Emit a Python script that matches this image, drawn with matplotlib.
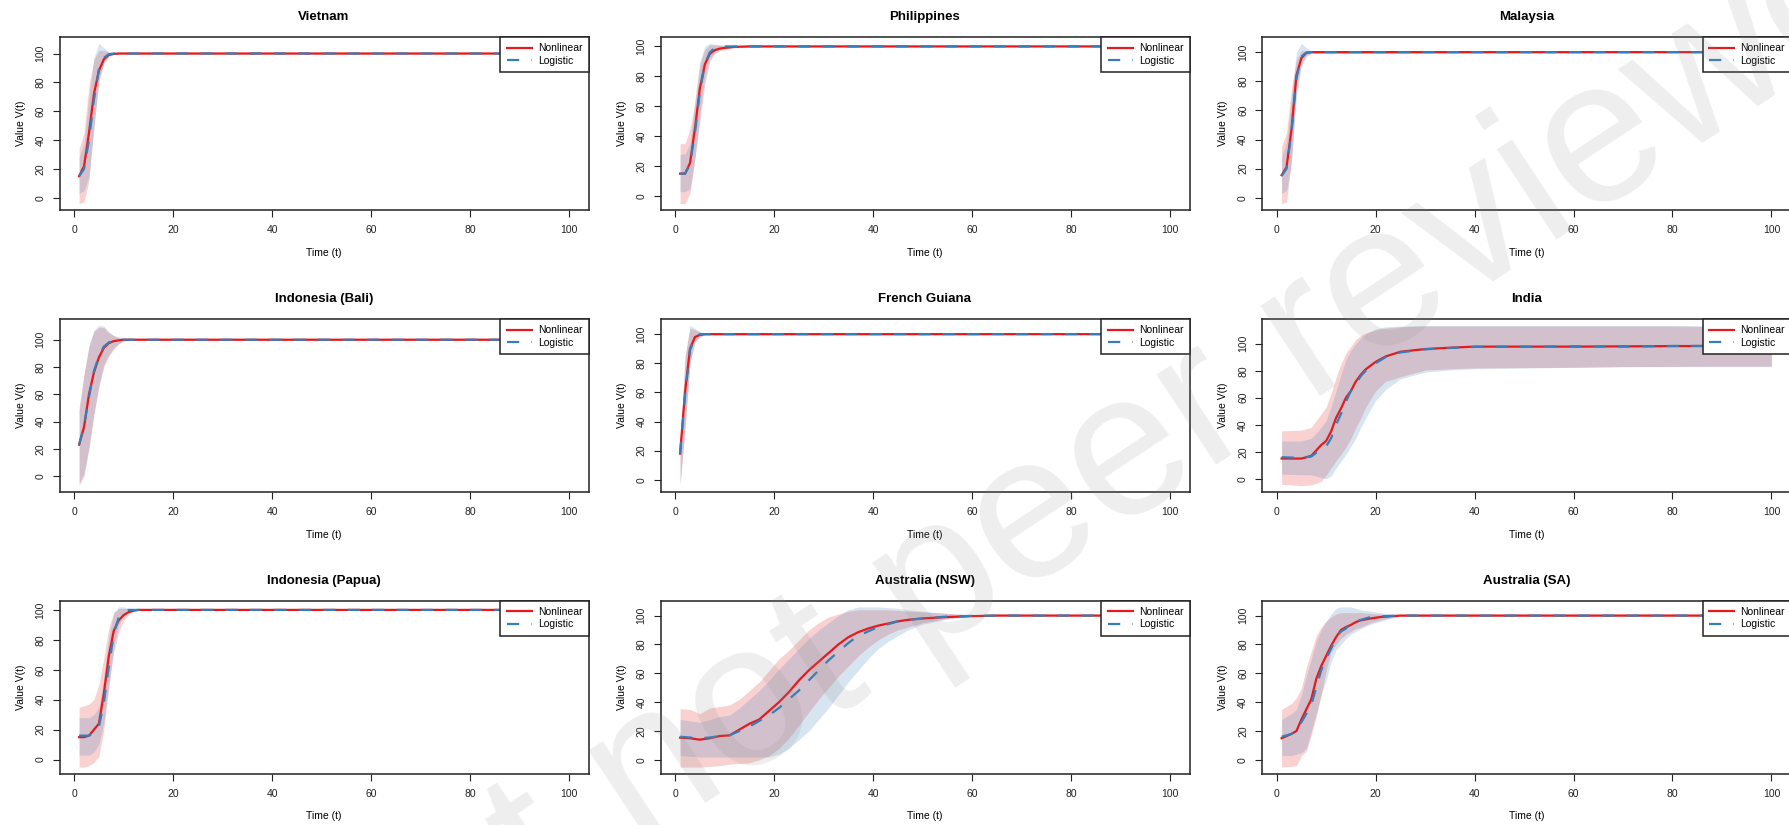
import matplotlib as mpl
mpl.use('Agg')
import matplotlib.pyplot as plt
import numpy as np

plt.rcParams['font.family'] = ['Liberation Sans', 'DejaVu Sans']

RED = '#E41A1C'
BLUE = '#377EB8'

# ---- Vietnam ----
vn_t = [1, 2, 3, 4, 5, 6, 7, 8, 9, 100]
vn_nl = [15, 22, 45, 72, 88, 96, 99, 99.7, 100, 100]
vn_lg = [15, 20, 40, 68, 89, 97, 99.5, 100, 100, 100]
vn_nl_lo = [-4, -3, 12, 50, 80, 93, 98, 99.5, 99.8, 99.8]
vn_nl_hi = [34, 45, 78, 96, 102, 102, 101, 100.5, 100.2, 100.2]
vn_lg_lo = [3, 5, 15, 48, 82, 94, 98.5, 99.5, 99.8, 99.8]
vn_lg_hi = [28, 38, 70, 97, 107, 104, 101, 100.5, 100.2, 100.2]

# ---- Philippines ----
ph_t = [1, 2, 3, 4, 5, 6, 7, 8, 9, 10, 12, 15, 100]
ph_nl = [15, 15, 22, 45, 72, 88, 95, 97.5, 98.5, 99, 99.7, 100, 100]
ph_lg = [15, 15, 21, 42, 70, 88, 96, 99, 100, 100, 100, 100, 100]
ph_nl_lo = [-5, -5, 2, 25, 50, 75, 90, 95, 97, 98, 99, 99.5, 99.8]
ph_nl_hi = [35, 35, 45, 62, 88, 98, 101, 101, 100.8, 100.5, 100.3, 100.3, 100.2]
ph_lg_lo = [3, 3, 5, 25, 55, 80, 92, 96, 98.5, 99, 99.5, 99.7, 99.8]
ph_lg_hi = [28, 28, 35, 65, 90, 100, 102, 101.5, 101, 101, 100.5, 100.3, 100.2]

# ---- Malaysia ----
my_t = [1, 2, 3, 4, 5, 6, 7, 100]
my_nl = [15.5, 21, 47, 84, 96, 99.5, 100, 100]
my_lg = [15, 20, 45, 82, 97, 99.7, 100, 100]
my_nl_lo = [-4, -3, 25, 75, 92, 98, 99.5, 99.8]
my_nl_hi = [35, 45, 75, 95, 101, 101, 100.5, 100.2]
my_lg_lo = [3, 5, 25, 70, 90, 97, 99, 99.8]
my_lg_hi = [28, 38, 70, 100, 106, 103, 101, 100.2]

# ---- Indonesia (Bali) ----
ba_t = [1, 2, 3, 4, 5, 6, 7, 8, 9, 10, 12, 100]
ba_nl = [23, 36, 60, 76, 87, 94, 97.5, 99, 99.5, 100, 100, 100]
ba_lg = [23, 37, 58, 77, 88, 95, 98, 99.2, 99.7, 100, 100, 100]
ba_nl_lo = [-7, 0, 20, 45, 65, 80, 88, 93, 97, 99, 99.8, 99.8]
ba_nl_hi = [50, 75, 95, 106, 109, 109, 105, 103, 101.5, 101, 100.3, 100.2]
ba_lg_lo = [-5, 2, 22, 46, 67, 82, 89, 94, 97, 99, 99.8, 99.8]
ba_lg_hi = [48, 74, 96, 107, 110.5, 110, 106, 103, 102, 101, 100.3, 100.2]

# ---- French Guiana ----
fg_t = [1, 2, 3, 4, 5, 6, 100]
fg_nl = [18, 60, 90, 98, 99.5, 100, 100]
fg_lg = [18, 58, 89, 98, 100, 100, 100]
fg_nl_lo = [-4, 35, 80, 95, 98, 99.5, 99.8]
fg_nl_hi = [22, 85, 104, 103, 101.5, 100.5, 100.2]
fg_lg_lo = [-2, 36, 80, 95, 98.5, 99.5, 99.8]
fg_lg_hi = [22, 84, 106, 104, 101.5, 100.5, 100.2]

# ---- India ----
in_t = [1, 5, 7, 9, 10, 11, 12, 13, 14, 15, 16, 17, 18, 20, 22, 25, 30, 35, 40, 50,
        60, 70, 80, 90, 100]
in_nl = [15, 15, 17, 25, 28, 35, 45, 52, 60, 65, 72, 77, 81, 86.5, 90.5, 94, 96, 97, 97.8, 97.8,
         97.8, 98, 98.2, 98.3, 98.5]
in_lg = [16, 15.5, 16.5, 22, 24, 30, 40, 48, 57, 65, 70, 76, 80, 85.5, 90, 93.5, 95.8, 96.8, 97.6, 97.8,
         98, 97.8, 98.3, 98.3, 98.4]
in_nl_lo = [-4, -5, -4.5, -2, 2.5, 8, 13.5, 18, 23.5, 30, 38, 45, 53, 65, 72, 75.5, 80.5, 81.5, 82, 82.3,
            82.5, 83, 83.2, 83.4, 83.4]
in_nl_hi = [35.5, 36, 38, 48, 53, 63, 75, 85, 93, 98, 103, 106, 108, 110, 111.5, 112.5, 113, 113, 113, 113,
            113, 113, 113, 112.5, 112]
in_lg_lo = [3.5, 3, 3, 1, 0, 2, 8, 13, 18, 24, 30, 38, 45, 58, 66, 74, 79, 80.5, 81.5, 82,
            82.5, 83, 83, 83, 83]
in_lg_hi = [28, 28, 30, 38, 43, 53, 65, 77, 88, 95, 100, 104, 107, 111, 112.5, 113, 113.5, 113.5, 113.5, 113.5,
            113.5, 113.5, 113.5, 113, 112.5]

# ---- Indonesia (Papua) ----
pa_t = [1, 2, 3, 4, 5, 6, 7, 8, 9, 10, 11, 12, 13, 100]
pa_nl = [15, 15, 16, 20, 24, 44, 69, 86, 93, 96.5, 98.5, 99.5, 100, 100]
pa_lg = [16, 16, 16, 18, 22, 38, 62, 84, 95, 99, 100, 100, 100, 100]
pa_nl_lo = [-5, -5, -4, -2, 2, 20, 48, 72, 85, 93, 97, 99, 99.7, 99.8]
pa_nl_hi = [35, 36, 37, 40, 50, 68, 88, 98, 101, 101, 100.8, 100.5, 100.3, 100.2]
pa_lg_lo = [3, 3, 3, 5, 10, 25, 50, 75, 90, 97, 99.5, 99.8, 99.8, 99.8]
pa_lg_hi = [28, 28, 28, 30, 35, 55, 82, 98, 102, 102, 101, 100.5, 100.3, 100.2]

# ---- Australia (NSW) ----
nsw_t = [1, 3, 5, 7, 9, 11, 13, 15, 17, 19, 21, 23, 25, 27, 29, 31, 33, 35, 37, 39,
         41, 43, 45, 47, 50, 55, 60, 65, 100]
nsw_nl = [15.4, 15, 14, 15, 16.5, 17, 21, 25, 28, 34, 40, 47, 55, 62, 68, 74, 80, 85, 88.5, 91,
          93, 94.5, 96, 97, 98, 99, 99.6, 100, 100]
nsw_lg = [16, 15.5, 15, 15.5, 16.5, 17, 20, 23, 27, 31, 36, 42, 48, 55, 62, 69, 75, 81, 86, 89,
          92, 94, 96, 97, 98, 99.3, 99.8, 100, 100]
nsw_nl_lo = [-5, -5, -5, -4.5, -4, -3, -2.5, -2, 0, 3, 8, 15, 24, 33, 42, 50, 58, 65, 72, 78,
             83, 87, 90, 92, 95, 98, 99.5, 99.8, 99.8]
nsw_nl_hi = [35.5, 35, 32, 36, 37, 38, 42, 48, 54, 62, 70, 76, 83, 90, 95, 99, 101, 103, 104, 104,
             104, 104, 103.5, 103, 102.5, 101.5, 100.5, 100.2, 100.2]
nsw_lg_lo = [3, 2.5, 2, 2, 2, 2, 2, 2, 2, 2, 4, 8, 14, 20, 28, 36, 45, 54, 62, 70,
             77, 82, 86, 90, 94, 97.5, 99.3, 99.8, 99.8]
nsw_lg_hi = [28, 27, 26, 28, 30, 31, 36, 42, 48, 55, 63, 70, 77, 84, 90, 95, 100, 104, 106, 106,
             106, 105.5, 105, 104, 103, 101.5, 100.5, 100.2, 100.2]

# ---- Australia (SA) ----
sa_t = [1, 3, 4, 5, 6, 7, 8, 9, 10, 11, 12, 13, 14, 15, 16, 17, 19, 21, 23, 25, 100]
sa_nl = [15, 18, 20, 28, 35, 42, 56, 65, 72, 79, 85, 90, 92, 93.5, 95.5, 96.7, 98, 99, 99.5, 100, 100]
sa_lg = [16, 18, 21, 26, 32, 38, 50, 62, 70, 77, 85, 89, 91, 95, 96, 97, 99, 99.5, 99.8, 100, 100]
sa_nl_lo = [-5, -4.5, -4, 3, 6, 17, 30, 45, 62, 75, 80, 84, 87, 89, 91, 92, 95, 97, 98.5, 99.5, 99.8]
sa_nl_hi = [35, 39, 43, 50, 64, 75, 86, 92, 96, 99, 101, 102, 102, 102, 102, 102, 101.5, 101, 100.7, 100.5, 100.2]
sa_lg_lo = [3, 3, 4, 5, 8, 20, 32, 45, 55, 68, 76, 80, 84, 87, 89, 91, 94, 96, 98, 99.5, 99.8]
sa_lg_hi = [28, 32, 35, 45, 58, 70, 82, 90, 96, 101, 105, 106, 106, 106, 105, 104, 103, 102, 101, 100.5, 100.2]

titles = ['Vietnam', 'Philippines', 'Malaysia',
          'Indonesia (Bali)', 'French Guiana', 'India',
          'Indonesia (Papua)', 'Australia (NSW)', 'Australia (SA)']
panels = [
    (vn_t, vn_nl, vn_lg, vn_nl_lo, vn_nl_hi, vn_lg_lo, vn_lg_hi),
    (ph_t, ph_nl, ph_lg, ph_nl_lo, ph_nl_hi, ph_lg_lo, ph_lg_hi),
    (my_t, my_nl, my_lg, my_nl_lo, my_nl_hi, my_lg_lo, my_lg_hi),
    (ba_t, ba_nl, ba_lg, ba_nl_lo, ba_nl_hi, ba_lg_lo, ba_lg_hi),
    (fg_t, fg_nl, fg_lg, fg_nl_lo, fg_nl_hi, fg_lg_lo, fg_lg_hi),
    (in_t, in_nl, in_lg, in_nl_lo, in_nl_hi, in_lg_lo, in_lg_hi),
    (pa_t, pa_nl, pa_lg, pa_nl_lo, pa_nl_hi, pa_lg_lo, pa_lg_hi),
    (nsw_t, nsw_nl, nsw_lg, nsw_nl_lo, nsw_nl_hi, nsw_lg_lo, nsw_lg_hi),
    (sa_t, sa_nl, sa_lg, sa_nl_lo, sa_nl_hi, sa_lg_lo, sa_lg_hi),
]

W, H = 1789, 825
fig = plt.figure(figsize=(W / 100, H / 100), dpi=100)

col_left = [59.5, 660.5, 1262]
row_top = [37, 319, 600.5]
aw, ah = 529, 173

for i, (title, p) in enumerate(zip(titles, panels)):
    t, nl, lg, nl_lo, nl_hi, lg_lo, lg_hi = p
    r, c = divmod(i, 3)
    ax = fig.add_axes([col_left[c] / W, 1 - (row_top[r] + ah) / H, aw / W, ah / H])

    ax.fill_between(t, nl_lo, nl_hi, color=RED, alpha=0.2, lw=0)
    ax.fill_between(t, lg_lo, lg_hi, color=BLUE, alpha=0.2, lw=0)
    ax.plot(t, nl, color=RED, lw=1.6, label='Nonlinear')
    ax.plot(t, lg, color=BLUE, lw=1.6, dashes=(5.5, 5.5), label='Logistic')

    # R style 4% axis extension
    ymin = min(min(nl_lo), min(lg_lo))
    ymax = max(max(nl_hi), max(lg_hi))
    pad = 0.04 * (ymax - ymin)
    ax.set_ylim(ymin - pad, ymax + pad)
    ax.set_xlim(1 - 0.04 * 99, 100 + 0.04 * 99)
    ax.set_xticks([0, 20, 40, 60, 80, 100])
    ax.set_yticks([0, 20, 40, 60, 80, 100])

    ax.tick_params(axis='both', direction='out', length=5, width=0.8,
                   labelsize=7.5, colors='#222222')
    ax.tick_params(axis='x', pad=6)
    ax.tick_params(axis='y', pad=5)
    for lab in ax.get_yticklabels():
        lab.set_rotation(90)
        lab.set_va('center')
    for s in ax.spines.values():
        s.set_linewidth(1.1)
        s.set_color('#222222')

    ax.set_title(title, fontsize=9.5, fontweight='bold', pad=12)
    ax.set_xlabel('Time (t)', fontsize=7.5, labelpad=9)
    ax.set_ylabel('Value V(t)', fontsize=7.5, labelpad=7)

    leg = ax.legend(loc='upper right', borderaxespad=0, fontsize=7.5, fancybox=False,
                    framealpha=1, edgecolor='#222222', handlelength=2.4,
                    labelspacing=0.25, borderpad=0.6, handletextpad=0.6)
    leg.get_frame().set_linewidth(1.1)

# watermark
fig.text(0.538, 0.31, 'Preprint not peer reviewed', fontsize=147, rotation=33.5,
         color='#8c8c8c', alpha=0.15, ha='center', va='center',
         rotation_mode='anchor', zorder=100)

plt.savefig('out.png', dpi=100)
